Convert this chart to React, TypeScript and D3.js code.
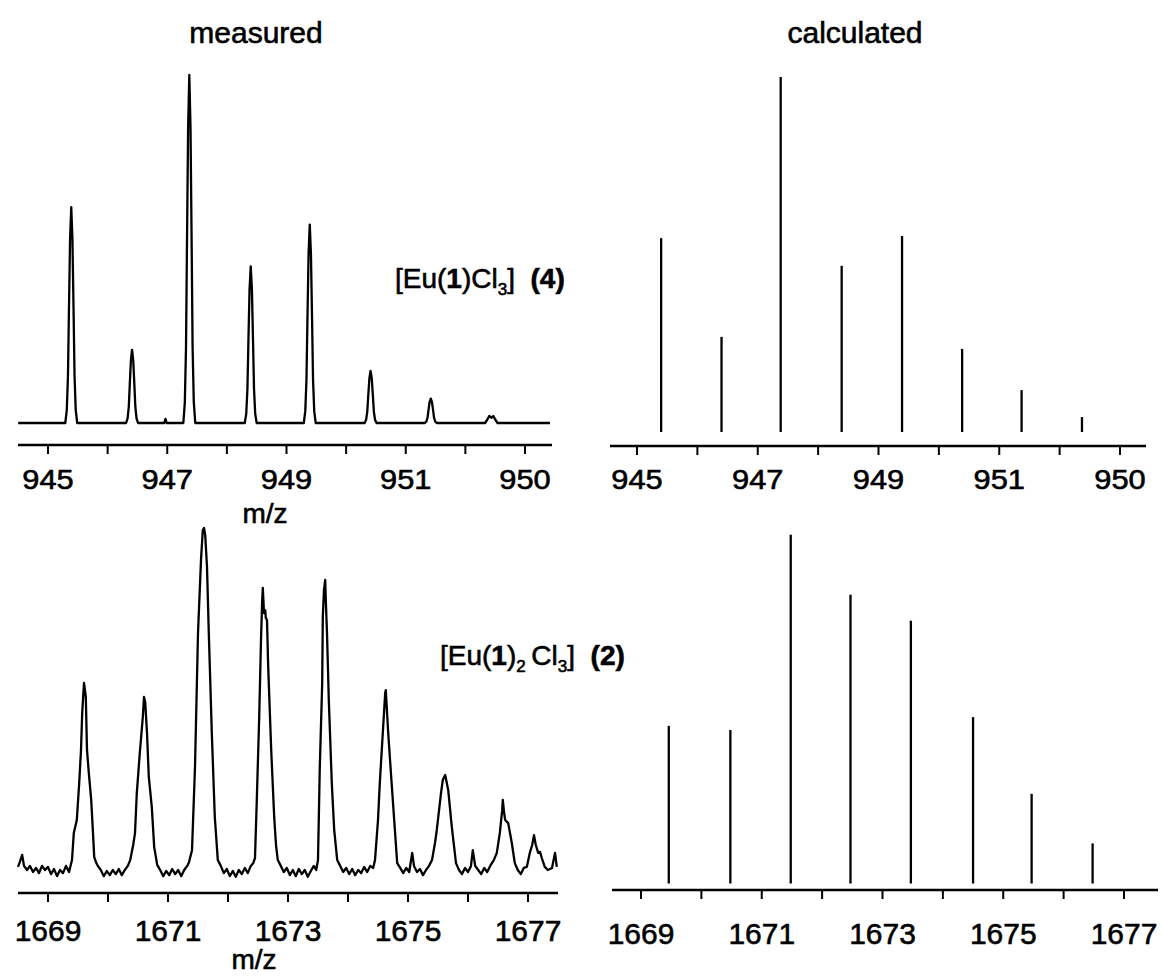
import React from 'react';
import * as d3 from 'd3';

// ---------- data (m/z, relative intensity %) ----------
const topMeasured: [number, number][] = [
  [944.5, 0], [945.29, 0], [945.315, 3.7], [945.335, 13.6], [945.35, 31], [945.37, 52.7], [945.39, 62], [945.41, 52.7], [945.43, 31], [945.445, 13.6], [945.465, 3.7], [945.49, 0],
  [946.31, 0], [946.335, 1.3], [946.355, 4.6], [946.37, 10.5], [946.39, 17.9], [946.41, 21], [946.43, 17.9], [946.45, 10.5], [946.465, 4.6], [946.485, 1.3], [946.51, 0],
  [946.95, 0], [946.97, 1.2], [946.99, 0],
  [947.27, 0], [947.295, 6], [947.315, 22], [947.33, 50], [947.35, 85], [947.37, 100], [947.39, 85], [947.41, 50], [947.425, 22], [947.445, 6], [947.47, 0],
  [948.3, 0], [948.325, 2.7], [948.345, 9.9], [948.36, 22.5], [948.38, 38.3], [948.4, 45], [948.42, 38.3], [948.44, 22.5], [948.455, 9.9], [948.475, 2.7], [948.5, 0],
  [949.29, 0], [949.315, 3.4], [949.335, 12.5], [949.35, 28.5], [949.37, 48.5], [949.39, 57], [949.41, 48.5], [949.43, 28.5], [949.445, 12.5], [949.465, 3.4], [949.49, 0],
  [950.31, 0], [950.335, 0.9], [950.355, 3.3], [950.37, 7.5], [950.39, 12.8], [950.41, 15], [950.43, 12.8], [950.45, 7.5], [950.465, 3.3], [950.485, 0.9], [950.51, 0],
  [951.32, 0], [951.345, 0.4], [951.365, 1.5], [951.38, 3.5], [951.4, 6], [951.42, 7], [951.44, 6], [951.46, 3.5], [951.475, 1.5], [951.495, 0.4], [951.52, 0],
  [952.33, 0], [952.37, 1], [952.4, 2], [952.44, 1.5], [952.47, 2], [952.5, 1], [952.54, 0],
  [953.42, 0],
];

const topCalcMz = [945.4, 946.4, 947.38, 948.39, 949.39, 950.385, 951.37, 952.37];
const topCalcInt = [54.6, 26.8, 100, 46.8, 55.2, 23.4, 11.8, 4.2];

const bottomMeasured: [number, number][] = [
  [1668.5, 0.9], [1668.53, 2.3], [1668.57, 4.4], [1668.6, 1.2], [1668.65, 0], [1668.7, 1.2], [1668.75, -0.6], [1668.8, 0.6], [1668.85, -0.9], [1668.9, 1.2], [1668.95, 0],
  [1669.0, 0.9], [1669.05, -1.2], [1669.1, 0.3], [1669.15, -1.8], [1669.2, 0], [1669.25, -0.9], [1669.3, 1.2], [1669.35, -0.6], [1669.4, 2.9],
  [1669.43, 10.8], [1669.48, 14.6], [1669.52, 25.4], [1669.55, 35.1], [1669.57, 45.9], [1669.6, 54.7], [1669.63, 50.6], [1669.65, 35.1], [1669.68, 28.4], [1669.72, 20.5], [1669.75, 10.8], [1669.77, 3.8],
  [1669.8, 2.3], [1669.83, 1.2], [1669.88, 0], [1669.93, -1.8], [1669.98, -0.3], [1670.03, -1.5], [1670.08, 0], [1670.13, -1.2], [1670.18, 0.3], [1670.23, -1.5], [1670.28, 0], [1670.33, 1.2], [1670.37, 2.9],
  [1670.42, 7.3], [1670.45, 10.8], [1670.48, 22.5], [1670.53, 34.2], [1670.58, 44.7], [1670.6, 50.6], [1670.62, 49.1], [1670.65, 40.1], [1670.68, 27.2], [1670.73, 18.4], [1670.77, 6.7], [1670.82, 1.5],
  [1670.87, 0], [1670.92, -1.8], [1670.97, -0.3], [1671.02, -1.5], [1671.07, 0.3], [1671.12, -1.2], [1671.17, 0], [1671.22, -1.8], [1671.27, 0], [1671.32, 1.2], [1671.35, 2.3], [1671.4, 5.8],
  [1671.45, 30.1], [1671.5, 69.3], [1671.55, 90.6], [1671.58, 99.4], [1671.6, 100], [1671.62, 98.0], [1671.65, 88.6], [1671.68, 69.3], [1671.73, 40.1], [1671.78, 15.5], [1671.83, 2.9],
  [1671.88, 1.2], [1671.93, -0.9], [1671.98, 0.3], [1672.03, -1.8], [1672.08, -0.3], [1672.13, -2.0], [1672.18, 0], [1672.23, -1.2], [1672.28, 0.6], [1672.33, -0.9], [1672.38, 1.2], [1672.42, 2.0], [1672.45, 3.5],
  [1672.48, 20.5], [1672.52, 44.7], [1672.55, 67.3], [1672.57, 78.9], [1672.58, 82.5], [1672.6, 75.1], [1672.62, 76.0], [1672.63, 73.7], [1672.65, 73.1], [1672.67, 59.4], [1672.72, 35.1], [1672.77, 15.5], [1672.8, 7.3], [1672.83, 2.9],
  [1672.88, 1.2], [1672.93, -0.6], [1672.98, 0.6], [1673.03, -1.5], [1673.08, 0], [1673.13, -1.8], [1673.18, 0.3], [1673.23, -1.2], [1673.28, 0], [1673.33, -2.0], [1673.38, -0.3], [1673.43, 1.2], [1673.47, 0], [1673.5, 2.9],
  [1673.53, 30.1], [1673.57, 54.7], [1673.58, 74.0], [1673.6, 81.9], [1673.62, 84.8], [1673.63, 78.9], [1673.65, 69.3], [1673.68, 49.7], [1673.73, 25.4], [1673.77, 11.7], [1673.82, 2.9],
  [1673.87, 1.2], [1673.92, -0.6], [1673.97, 0.6], [1674.02, -1.2], [1674.07, 0.3], [1674.12, -1.5], [1674.17, 0], [1674.22, -0.9], [1674.27, 0.9], [1674.32, -0.6], [1674.37, 1.2], [1674.42, 0.6], [1674.45, 2.9],
  [1674.5, 14.6], [1674.53, 25.4], [1674.58, 40.1], [1674.62, 51.8], [1674.63, 52.6], [1674.67, 40.1], [1674.72, 27.2], [1674.77, 14.6], [1674.82, 2.0],
  [1674.87, 0.6], [1674.92, -0.9], [1674.97, 0.6], [1675.02, -0.6], [1675.07, 5.0], [1675.1, 1.2], [1675.15, -0.6], [1675.2, 0.3], [1675.25, -1.5], [1675.3, 0], [1675.35, 1.2], [1675.4, 2.9],
  [1675.45, 7.9], [1675.48, 11.7], [1675.55, 22.5], [1675.58, 26.3], [1675.62, 27.8], [1675.63, 26.9], [1675.67, 23.4], [1675.73, 12.6], [1675.8, 2.0],
  [1675.85, 0], [1675.9, -1.2], [1675.95, 0.6], [1676.0, -0.6], [1676.05, 1.2], [1676.08, 5.8], [1676.12, 1.2], [1676.17, 0], [1676.22, -1.2], [1676.27, 0.6], [1676.32, -0.6], [1676.37, 1.2], [1676.43, 2.9],
  [1676.48, 5.0], [1676.53, 10.8], [1676.57, 17.5], [1676.58, 20.5], [1676.6, 17.0], [1676.62, 14.6], [1676.67, 13.7], [1676.7, 10.8], [1676.73, 7.9], [1676.78, 2.0],
  [1676.83, 0], [1676.88, -1.2], [1676.93, 0.6], [1676.98, 0.9], [1677.03, 5.0], [1677.07, 7.3], [1677.1, 10.2], [1677.13, 7.3], [1677.17, 5.0], [1677.2, 5.3], [1677.23, 3.5],
  [1677.28, 0.9], [1677.33, 0], [1677.4, 0.6], [1677.45, 5.0], [1677.48, 0.9],
];

const bottomCalcMz = [1669.46, 1670.48, 1671.48, 1672.47, 1673.47, 1674.5, 1675.47, 1676.48];
const bottomCalcInt = [45.2, 44.0, 100, 82.8, 75.3, 47.7, 25.7, 11.5];

const topTickValues = [945, 946, 947, 948, 949, 950, 951, 952, 953];
const topLabelValues = [945, 947, 949, 951, 953];
const topLabelTexts = ['945', '947', '949', '951', '950'];
const bottomTickValues = [1669, 1670, 1671, 1672, 1673, 1674, 1675, 1676, 1677];
const bottomLabelValues = [1669, 1671, 1673, 1675, 1677];
const bottomLabelTexts = ['1669', '1671', '1673', '1675', '1677'];

const FONT = "'Liberation Sans', Arial, Helvetica, sans-serif";
const TXT = { fontFamily: FONT, fill: '#000', stroke: '#000', strokeWidth: 0.6 } as const;

type AxisProps = {
  x: d3.ScaleLinear<number, number>;
  y: number;
  x0: number;
  x1: number;
  ticks: number[];
  labelValues: number[];
  labelTexts: string[];
  labelY: number;
  fontSize: number;
  sx: number;
};

function Axis({ x, y, x0, x1, ticks, labelValues, labelTexts, labelY, fontSize, sx }: AxisProps) {
  return (
    <g>
      <line x1={x0} x2={x1} y1={y} y2={y} stroke="#000" strokeWidth={2.6} />
      {ticks.map((t) => (
        <line key={t} x1={x(t)} x2={x(t)} y1={y} y2={y + 9} stroke="#000" strokeWidth={2} />
      ))}
      {labelValues.map((v, i) => (
        <text
          key={v}
          transform={`translate(${x(v)},${labelY}) scale(${sx},1)`}
          textAnchor="middle"
          fontSize={fontSize}
          {...TXT}
        >
          {labelTexts[i]}
        </text>
      ))}
    </g>
  );
}

export default function App() {
  // top-left: measured, [Eu(1)Cl3]
  const xTL = d3.scaleLinear().domain([945, 953]).range([48, 525]);
  const yTL = d3.scaleLinear().domain([0, 100]).range([423, 75]);
  // top-right: calculated
  const xTR = d3.scaleLinear().domain([945, 953]).range([637, 1120]);
  const yTR = d3.scaleLinear().domain([0, 100]).range([432, 77]);
  // bottom-left: measured, [Eu(1)2Cl3]
  const xBL = d3.scaleLinear().domain([1669, 1677]).range([48, 528]);
  const yBL = d3.scaleLinear().domain([0, 100]).range([870, 528]);
  // bottom-right: calculated
  const xBR = d3.scaleLinear().domain([1669, 1677]).range([641, 1124]);
  const yBR = d3.scaleLinear().domain([0, 100]).range([883.5, 534.7]);

  const lineTL = d3.line<[number, number]>().x((d) => xTL(d[0])).y((d) => yTL(d[1]));
  const lineBL = d3.line<[number, number]>().x((d) => xBL(d[0])).y((d) => yBL(d[1]));

  return (
    <svg
      width={1162}
      height={976}
      viewBox="0 0 1162 976"
      style={{ position: 'absolute', left: 0, top: 0, background: '#fff' }}
    >
      <rect x={0} y={0} width={1162} height={976} fill="#fff" />

      {/* titles */}
      <text x={256} y={43} textAnchor="middle" fontSize={30} {...TXT}>
        measured
      </text>
      <text x={855} y={43} textAnchor="middle" fontSize={30} {...TXT}>
        calculated
      </text>

      {/* top-left measured spectrum */}
      <path d={lineTL(topMeasured) || ''} fill="none" stroke="#000" strokeWidth={2.3} strokeLinejoin="round" />
      <Axis x={xTL} y={445} x0={18} x1={552} ticks={topTickValues} labelValues={topLabelValues}
        labelTexts={topLabelTexts} labelY={489} fontSize={28} sx={1.1} />
      <text x={265} y={523} textAnchor="middle" fontSize={28} {...TXT}>m/z</text>

      {/* top-right calculated sticks */}
      {topCalcMz.map((m, i) => (
        <line key={m} x1={xTR(m)} x2={xTR(m)} y1={yTR(0)} y2={yTR(topCalcInt[i])} stroke="#000" strokeWidth={2.3} />
      ))}
      <Axis x={xTR} y={446} x0={610} x1={1146} ticks={topTickValues} labelValues={topLabelValues}
        labelTexts={topLabelTexts} labelY={489} fontSize={28} sx={1.1} />

      {/* label 1 */}
      <text x={395} y={288} fontSize={28} {...TXT}>
        <tspan>[Eu(</tspan>
        <tspan fontWeight="bold">1</tspan>
        <tspan>)Cl</tspan>
        <tspan fontSize={17} dy={7}>3</tspan>
        <tspan dy={-7}>]{'\u00a0\u00a0'}</tspan>
        <tspan fontWeight="bold">(4)</tspan>
      </text>

      {/* bottom-left measured spectrum */}
      <path d={lineBL(bottomMeasured) || ''} fill="none" stroke="#000" strokeWidth={2.3} strokeLinejoin="round" />
      <Axis x={xBL} y={893} x0={18} x1={558} ticks={bottomTickValues} labelValues={bottomLabelValues}
        labelTexts={bottomLabelTexts} labelY={941} fontSize={30} sx={1.0} />
      <text x={254} y={969} textAnchor="middle" fontSize={28} {...TXT}>m/z</text>

      {/* bottom-right calculated sticks */}
      {bottomCalcMz.map((m, i) => (
        <line key={m} x1={xBR(m)} x2={xBR(m)} y1={yBR(0)} y2={yBR(bottomCalcInt[i])} stroke="#000" strokeWidth={2.3} />
      ))}
      <Axis x={xBR} y={890} x0={612} x1={1158} ticks={bottomTickValues} labelValues={bottomLabelValues}
        labelTexts={bottomLabelTexts} labelY={944} fontSize={30} sx={1.0} />

      {/* label 2 */}
      <text x={440} y={665} fontSize={28} {...TXT}>
        <tspan>[Eu(</tspan>
        <tspan fontWeight="bold">1</tspan>
        <tspan>)</tspan>
        <tspan fontSize={17} dy={7}>2</tspan>
        <tspan dy={-7}>{'\u2009'}Cl</tspan>
        <tspan fontSize={17} dy={7}>3</tspan>
        <tspan dy={-7}>]{'\u00a0\u00a0'}</tspan>
        <tspan fontWeight="bold">(2)</tspan>
      </text>
    </svg>
  );
}
